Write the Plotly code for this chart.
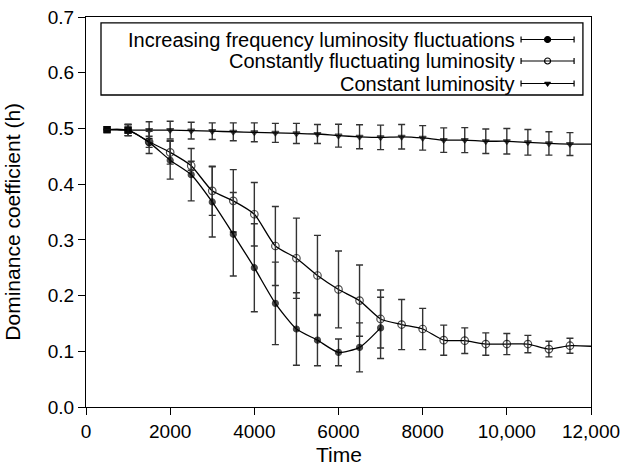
import plotly.graph_objects as go

# ---- data ----
time_inc = [500, 1000, 1500, 2000, 2500, 3000, 3500, 4000, 4500, 5000, 5500, 6000, 6500, 7000]
h_inc = [0.498, 0.497, 0.475, 0.443, 0.417, 0.368, 0.310, 0.250, 0.186, 0.140, 0.120, 0.098, 0.107, 0.142]
err_inc = [0.0, 0.010, 0.020, 0.034, 0.047, 0.063, 0.075, 0.079, 0.074, 0.065, 0.046, 0.024, 0.044, 0.055]

time_fl = [500, 1000, 1500, 2000, 2500, 3000, 3500, 4000, 4500, 5000, 5500, 6000,
           6500, 7000, 7500, 8000, 8500, 9000, 9500, 10000, 10500, 11000, 11500]
h_fl = [0.498, 0.497, 0.476, 0.457, 0.433, 0.388, 0.370, 0.346, 0.289, 0.267, 0.236, 0.211,
        0.191, 0.158, 0.148, 0.140, 0.120, 0.119, 0.113, 0.113, 0.113, 0.104, 0.110]
err_fl = [0.0, 0.010, 0.010, 0.021, 0.008, 0.044, 0.056, 0.057, 0.071, 0.072, 0.072, 0.069,
          0.064, 0.052, 0.045, 0.037, 0.027, 0.023, 0.020, 0.019, 0.0155, 0.014, 0.0135]
end_fl = (12000, 0.109)

time_c = [500, 1000, 1500, 2000, 2500, 3000, 3500, 4000, 4500, 5000, 5500, 6000,
          6500, 7000, 7500, 8000, 8500, 9000, 9500, 10000, 10500, 11000, 11500]
h_c = [0.498, 0.497, 0.497, 0.497, 0.496, 0.495, 0.494, 0.493, 0.492, 0.491, 0.490, 0.487,
       0.485, 0.484, 0.485, 0.483, 0.479, 0.479, 0.477, 0.477, 0.475, 0.473, 0.472]
err_c = [0.0, 0.010, 0.015, 0.016, 0.015, 0.015, 0.016, 0.017, 0.017, 0.018, 0.017, 0.0205,
         0.0215, 0.022, 0.022, 0.022, 0.022, 0.0225, 0.022, 0.023, 0.023, 0.021, 0.0205]
end_c = (12000, 0.472)

legend_names = ["Increasing frequency luminosity fluctuations",
                "Constantly fluctuating luminosity",
                "Constant luminosity"]

x_ticks = [0, 2000, 4000, 6000, 8000, 10000, 12000]
x_ticklabels = ["0", "2000", "4000", "6000", "8000", "10,000", "12,000"]
y_ticks = [0.0, 0.1, 0.2, 0.3, 0.4, 0.5, 0.6, 0.7]

FONT = "Liberation Sans, Arial, sans-serif"
BLACK = "#000000"
ERRC = "#333333"

fig = go.Figure()

def add_series(t, h, e, end, symbol, fill, size, first_square=True):
    lx = list(t) + ([end[0]] if end else [])
    ly = list(h) + ([end[1]] if end else [])
    fig.add_trace(go.Scatter(x=lx, y=ly, mode="lines",
                             line=dict(color=BLACK, width=1.3, shape="spline", smoothing=0.6),
                             showlegend=False, hoverinfo="skip"))
    symbols = [("square" if (first_square and i < 2) else symbol) for i in range(len(t))]
    sizes = [(6 if (first_square and i < 2) else size) for i in range(len(t))]
    fig.add_trace(go.Scatter(x=t, y=h, mode="markers",
                             marker=dict(symbol=symbols, size=sizes, color=fill,
                                         line=dict(color=BLACK, width=1.2)),
                             error_y=dict(type="data", array=e, visible=True,
                                          color=ERRC, thickness=1.4, width=3.5),
                             showlegend=False))

add_series(time_c, h_c, err_c, end_c, "triangle-down", BLACK, 6)
add_series(time_fl, h_fl, err_fl, end_fl, "circle-open", BLACK, 7.5)
add_series(time_inc, h_inc, err_inc, None, "circle", BLACK, 6)

# ---- legend drawn on an overlay paper-like axis ----
leg_sym = ["circle", "circle-open", "triangle-down"]
leg_size = [6, 6, 5]
leg_y = [0.9423, 0.8872, 0.8295]
for name, sym, sz, yy in zip(legend_names, leg_sym, leg_size, leg_y):
    fig.add_trace(go.Scatter(x=[0.914], y=[yy], xaxis="x2", yaxis="y2", mode="markers",
                             marker=dict(symbol=sym, size=sz, color=BLACK,
                                         line=dict(color=BLACK, width=1.2)),
                             error_x=dict(type="constant", value=0.0525, visible=True,
                                          color=BLACK, thickness=1.2, width=3),
                             showlegend=False, hoverinfo="skip"))
    fig.add_annotation(x=0.851, y=yy, xref="x2", yref="y2", text=name, showarrow=False,
                       xanchor="right", yanchor="middle", borderpad=0,
                       font=dict(family=FONT, size=20, color=BLACK))

fig.add_shape(type="rect", xref="paper", yref="paper", x0=0.0297, x1=0.984, y0=0.80, y1=0.985,
              line=dict(color=BLACK, width=1.3), fillcolor="rgba(0,0,0,0)")

# axis titles as annotations for exact placement
fig.add_annotation(x=0.5, y=-0.123, xref="paper", yref="paper", text="Time", showarrow=False,
                   xanchor="center", yanchor="middle",
                   font=dict(family=FONT, size=21, color=BLACK))
fig.add_annotation(x=-0.1455, y=0.474, xref="paper", yref="paper", text="Dominance coefficient (h)",
                   showarrow=False, textangle=-90, xanchor="center", yanchor="middle",
                   font=dict(family=FONT, size=21, color=BLACK))

axis_common = dict(showline=True, linecolor=BLACK, linewidth=1.3, mirror=True,
                   ticks="outside", ticklen=7, tickwidth=1.2, tickcolor=BLACK,
                   showgrid=False, zeroline=False, automargin=False,
                   tickfont=dict(family=FONT, size=19, color=BLACK))

fig.update_layout(
    width=625, height=468,
    margin=dict(l=86, r=34, t=17, b=61, autoexpand=False),
    paper_bgcolor="white", plot_bgcolor="white",
    showlegend=False,
    xaxis=dict(range=[0, 12000], tickvals=x_ticks, ticktext=x_ticklabels, **axis_common),
    yaxis=dict(range=[0, 0.7], tickvals=y_ticks, tickformat=".1f", **axis_common),
    xaxis2=dict(range=[0, 1], overlaying="x", visible=False, fixedrange=True),
    yaxis2=dict(range=[0, 1], overlaying="y", visible=False, fixedrange=True),
)

fig.write_html("out.html")
